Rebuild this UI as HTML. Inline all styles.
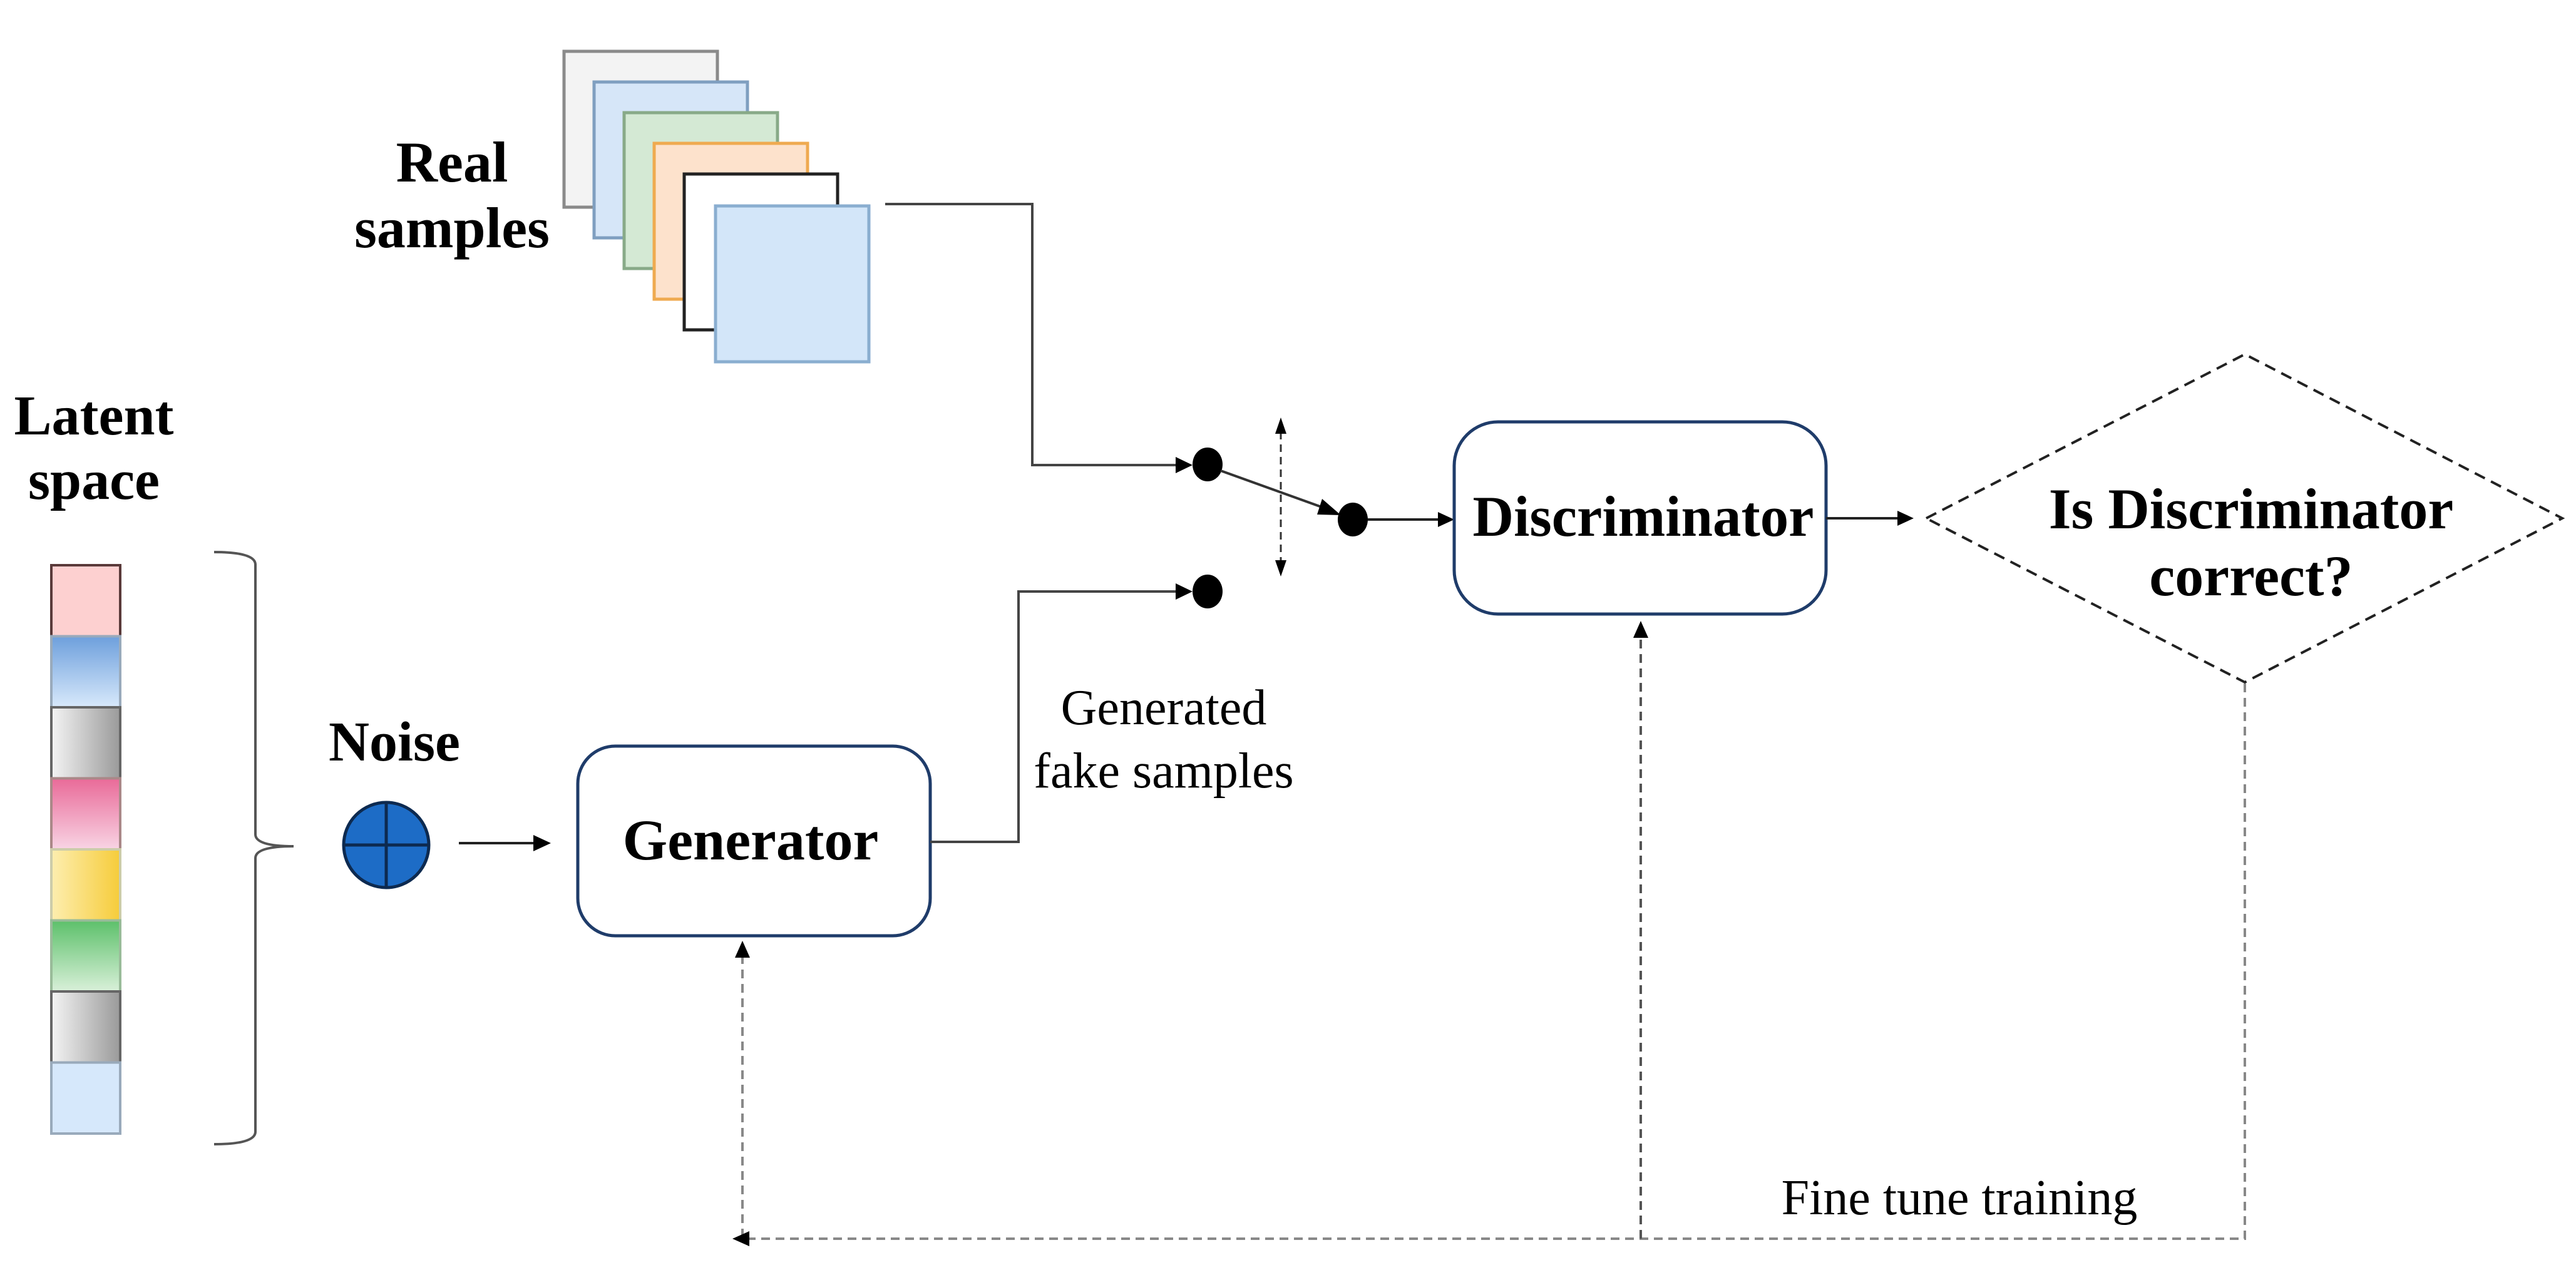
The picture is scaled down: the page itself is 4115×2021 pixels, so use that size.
<!DOCTYPE html>
<html><head><meta charset="utf-8"><style>html,body{margin:0;padding:0;background:#fff}svg{display:block}</style></head>
<body>
<svg width="4115" height="2021" viewBox="0 0 4115 2021" xmlns="http://www.w3.org/2000/svg" font-family="Liberation Serif, serif">
<defs>
<linearGradient id="gBlue" x1="0" y1="0" x2="0" y2="1"><stop offset="0" stop-color="#6d9fdc"/><stop offset="1" stop-color="#d8e9fb"/></linearGradient>
<linearGradient id="gGray" x1="0" y1="0" x2="1" y2="0"><stop offset="0" stop-color="#f4f4f4"/><stop offset="1" stop-color="#9a9a9a"/></linearGradient>
<linearGradient id="gPink" x1="0" y1="0" x2="0" y2="1"><stop offset="0" stop-color="#e96a98"/><stop offset="1" stop-color="#f8d4e4"/></linearGradient>
<linearGradient id="gYel" x1="0" y1="0" x2="1" y2="0"><stop offset="0" stop-color="#fdeeb0"/><stop offset="1" stop-color="#f6cc3a"/></linearGradient>
<linearGradient id="gGreen" x1="0" y1="0" x2="0" y2="1"><stop offset="0" stop-color="#5cc06a"/><stop offset="1" stop-color="#d9f0d9"/></linearGradient>
</defs>

<rect x="901" y="82" width="245" height="249" fill="#f3f3f3" stroke="#8a8a8a" stroke-width="5"/>
<rect x="949" y="131" width="245" height="249" fill="#d6e6f8" stroke="#7f9fc0" stroke-width="5"/>
<rect x="997" y="180" width="245" height="249" fill="#d4e9d4" stroke="#88aa88" stroke-width="5"/>
<rect x="1045" y="229" width="245" height="249" fill="#fde2cc" stroke="#efaa50" stroke-width="5"/>
<rect x="1093" y="278" width="245" height="249" fill="#ffffff" stroke="#222" stroke-width="5"/>
<rect x="1143" y="329" width="245" height="249" fill="#d3e6f9" stroke="#8aaed0" stroke-width="5"/>
<text x="722" y="290" font-size="92" font-weight="bold" text-anchor="middle">Real</text>
<text x="722" y="395" font-size="92" font-weight="bold" text-anchor="middle">samples</text>

<text x="150" y="694" font-size="90" font-weight="bold" text-anchor="middle">Latent</text>
<text x="150" y="797" font-size="90" font-weight="bold" text-anchor="middle">space</text>
<g stroke="#666" stroke-width="4">
<rect x="82" y="903" width="110" height="113.5" fill="#fdd0d0" stroke="#5a3a3a"/>
<rect x="82" y="1016.5" width="110" height="113.5" fill="url(#gBlue)" stroke="#9ab"/>
<rect x="82" y="1130" width="110" height="113.5" fill="url(#gGray)"/>
<rect x="82" y="1243.5" width="110" height="113.5" fill="url(#gPink)" stroke="#a88"/>
<rect x="82" y="1357" width="110" height="113.5" fill="url(#gYel)" stroke="#cca"/>
<rect x="82" y="1470.5" width="110" height="113.5" fill="url(#gGreen)" stroke="#9b9"/>
<rect x="82" y="1584" width="110" height="113.5" fill="url(#gGray)"/>
<rect x="82" y="1697.5" width="110" height="113.5" fill="#d6e8fb" stroke="#9ab"/>
</g>
<path d="M342 882 Q408 882 408 902 L408 1333 Q408 1352 469 1352 Q408 1352 408 1371 L408 1808 Q408 1828 342 1828" fill="none" stroke="#555" stroke-width="4"/>

<text x="630" y="1215" font-size="90" font-weight="bold" text-anchor="middle">Noise</text>
<ellipse cx="617" cy="1350" rx="68" ry="68" fill="#1d6cc6" stroke="#0d2a50" stroke-width="5"/>
<line x1="549" y1="1350" x2="685" y2="1350" stroke="#0d2a50" stroke-width="5"/>
<line x1="617" y1="1282" x2="617" y2="1418" stroke="#0d2a50" stroke-width="5"/>
<line x1="733" y1="1347" x2="860" y2="1347" stroke="#222" stroke-width="4"/>
<polygon points="880,1347 852,1334 852,1360" fill="#000"/>

<rect x="923" y="1192" width="563" height="303" rx="60" fill="#fff" stroke="#1f3c6a" stroke-width="5"/>
<text x="1199" y="1373" font-size="92" font-weight="bold" text-anchor="middle">Generator</text>

<polyline points="1486,1345 1627,1345 1627,945 1888,945" fill="none" stroke="#444" stroke-width="4"/>
<polygon points="1905,945 1878,932 1878,958" fill="#000"/>
<polyline points="1414,326 1649,326 1649,743 1888,743" fill="none" stroke="#444" stroke-width="4"/>
<polygon points="1905,743 1878,730 1878,756" fill="#000"/>

<ellipse cx="1929" cy="742" rx="24" ry="27" fill="#000"/>
<ellipse cx="1929" cy="945" rx="24" ry="27" fill="#000"/>
<ellipse cx="2161" cy="830" rx="24" ry="27" fill="#000"/>
<line x1="1950" y1="752" x2="2125" y2="815" stroke="#333" stroke-width="4"/>
<polygon points="2142,823 2112,797 2104,822" fill="#000"/>
<line x1="2046" y1="690" x2="2046" y2="900" stroke="#333" stroke-width="3" stroke-dasharray="12,8"/>
<polygon points="2046,667 2037,693 2055,693" fill="#000"/>
<polygon points="2046,921 2037,895 2055,895" fill="#000"/>

<line x1="2185" y1="830" x2="2305" y2="830" stroke="#222" stroke-width="4"/>
<polygon points="2323,830 2297,818 2297,842" fill="#000"/>

<text x="1859" y="1157" font-size="80" text-anchor="middle">Generated</text>
<text x="1859" y="1258" font-size="80" text-anchor="middle">fake samples</text>

<rect x="2323" y="674" width="594" height="307" rx="70" fill="#fff" stroke="#1f3c6a" stroke-width="5"/>
<text x="2625" y="856" font-size="92" font-weight="bold" text-anchor="middle" textLength="545" lengthAdjust="spacingAndGlyphs">Discriminator</text>
<line x1="2917" y1="828" x2="3035" y2="828" stroke="#222" stroke-width="4"/>
<polygon points="3057,828 3031,816 3031,840" fill="#000"/>

<polygon points="3077,828 3586,566 4093,828 3586,1090" fill="none" stroke="#222" stroke-width="4" stroke-dasharray="18,11"/>
<text x="3596" y="844" font-size="92" font-weight="bold" text-anchor="middle">Is Discriminator</text>
<text x="3596" y="951" font-size="92" font-weight="bold" text-anchor="middle">correct?</text>

<polyline points="3586,1092 3586,1979 1186,1979 1186,1525" fill="none" stroke="#888" stroke-width="4" stroke-dasharray="14,9"/>
<polygon points="1186,1503 1174,1530 1198,1530" fill="#000"/>
<polygon points="1170,1979 1197,1967 1197,1991" fill="#000"/>
<line x1="2621" y1="1979" x2="2621" y2="1015" stroke="#555" stroke-width="4" stroke-dasharray="14,9"/>
<polygon points="2621,992 2609,1019 2633,1019" fill="#000"/>
<text x="3130" y="1940" font-size="80" text-anchor="middle">Fine tune training</text>
</svg>
</body></html>
